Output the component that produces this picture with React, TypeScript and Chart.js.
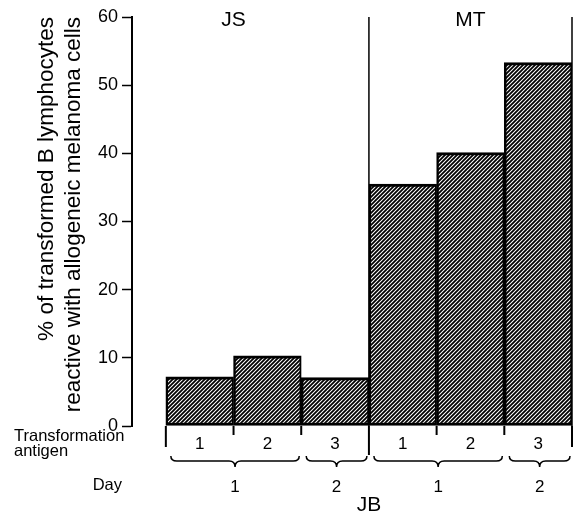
import React, { useEffect, useRef } from 'react';
import { Chart, registerables } from 'chart.js';

Chart.register(...registerables);

// ---- data ----
const antigenLabels = ['1', '2', '3', '1', '2', '3'];
const values = [7.2, 10.3, 7.1, 35.5, 40.1, 53.3];
const donors = ['JS', 'MT'];
const donorSpans = [[0, 2], [3, 5]];
const donorLabelAt = [0.5, 4];
const dayLabels = ['1', '2', '1', '2'];
const daySpans = [[0, 1], [2, 2], [3, 4], [5, 5]];
const yTitle = ['% of transformed B lymphocytes', 'reactive with allogeneic melanoma cells'];
const rowLabels = ['Transformation', 'antigen'];
const dayTitle = 'Day';
const subject = 'JB';

const FONT = "'Liberation Sans', Arial, Helvetica, sans-serif";

function makeHatch(): CanvasPattern | string {
  const c = document.createElement('canvas');
  c.width = 4;
  c.height = 4;
  const g = c.getContext('2d');
  if (!g) return '#888';
  g.fillStyle = '#fff';
  g.fillRect(0, 0, 4, 4);
  g.strokeStyle = '#000';
  g.lineWidth = 1.8;
  g.beginPath();
  g.moveTo(-1, 5); g.lineTo(5, -1);
  g.moveTo(-1, 1); g.lineTo(1, -1);
  g.moveTo(3, 5); g.lineTo(5, 3);
  g.stroke();
  const p = g.createPattern(c, 'repeat');
  return p || '#888';
}

function brace(ctx: CanvasRenderingContext2D, x1: number, x2: number, top: number) {
  const h = 5, d = 6, r = 6;
  const mid = (x1 + x2) / 2;
  const yb = top + h;
  ctx.beginPath();
  ctx.moveTo(x1, top);
  ctx.quadraticCurveTo(x1, yb, x1 + r, yb);
  ctx.lineTo(mid - r, yb);
  ctx.quadraticCurveTo(mid, yb, mid, yb + d);
  ctx.quadraticCurveTo(mid, yb, mid + r, yb);
  ctx.lineTo(x2 - r, yb);
  ctx.quadraticCurveTo(x2, yb, x2, top);
  ctx.stroke();
}

const annotate = {
  id: 'annotate',
  beforeDatasetsDraw(chart: any) {
    const { ctx, scales } = chart;
    const x = scales.x, y = scales.y;
    ctx.save();
    ctx.strokeStyle = '#000';
    ctx.lineWidth = 1.5;
    donorSpans.forEach(([, b]) => {
      const px = x.getPixelForValue(b + 0.5);
      ctx.beginPath();
      ctx.moveTo(px, y.getPixelForValue(60));
      ctx.lineTo(px, y.getPixelForValue(0));
      ctx.stroke();
    });
    ctx.restore();
  },
  afterDraw(chart: any) {
    const { ctx, scales } = chart;
    const x = scales.x, y = scales.y;
    const y0 = y.getPixelForValue(0);
    const yTop = y.getPixelForValue(60);
    ctx.save();
    ctx.fillStyle = '#000';
    ctx.strokeStyle = '#000';

    // donor labels
    ctx.font = `21px ${FONT}`;
    ctx.textAlign = 'center';
    ctx.textBaseline = 'middle';
    donors.forEach((d, i) => {
      ctx.fillText(d, x.getPixelForValue(donorLabelAt[i]), yTop + 3);
    });

    // boundary marks below the bars
    ctx.lineWidth = 2;
    const outer = new Set<number>();
    outer.add(-0.5);
    donorSpans.forEach(([, b]) => outer.add(b + 0.5));
    for (let k = 0; k <= antigenLabels.length; k++) {
      const v = k - 0.5;
      const px = x.getPixelForValue(v);
      let len = 9;
      if (outer.has(v)) len = v === 2.5 ? 29 : 21;
      ctx.beginPath();
      ctx.moveTo(px, y0);
      ctx.lineTo(px, y0 + len);
      ctx.stroke();
    }

    // braces for days
    ctx.lineWidth = 1.5;
    daySpans.forEach(([a, b], i) => {
      const x1 = x.getPixelForValue(a - 0.5) + 5;
      const x2 = x.getPixelForValue(b + 0.5) - 2;
      brace(ctx, x1, x2, y0 + 30);
      ctx.font = `17px ${FONT}`;
      ctx.textAlign = 'center';
      ctx.textBaseline = 'middle';
      ctx.fillText(dayLabels[i], (x1 + x2) / 2, y0 + 61);
    });

    // row labels
    ctx.font = `16.5px ${FONT}`;
    ctx.textAlign = 'left';
    ctx.textBaseline = 'middle';
    ctx.fillText(rowLabels[0], 14, y0 + 10);
    ctx.fillText(rowLabels[1], 14, y0 + 25);
    ctx.textAlign = 'right';
    ctx.fillText(dayTitle, y.right - 10, y0 + 59);

    // subject
    ctx.font = `21px ${FONT}`;
    ctx.textAlign = 'center';
    ctx.fillText(subject, x.getPixelForValue(2.5), y0 + 79);
    ctx.restore();
  },
};

export default function App() {
  const ref = useRef<HTMLCanvasElement>(null);
  useEffect(() => {
    if (!ref.current) return;
    Chart.defaults.font.family = FONT;
    const hatch = makeHatch();
    const chart = new Chart(ref.current, {
      type: 'bar',
      data: {
        datasets: [
          {
            data: values.map((v, i) => ({ x: i, y: v })),
            backgroundColor: hatch as any,
            borderColor: '#000',
            borderWidth: { top: 3, bottom: 3, left: 2.5, right: 2 } as any,
            borderSkipped: false,
            barPercentage: 1,
            categoryPercentage: 1,
          },
        ],
      },
      options: {
        responsive: false,
        animation: false,
        devicePixelRatio: 1,
        layout: { padding: { top: 17, right: 6, left: 0, bottom: 0 } },
        plugins: { legend: { display: false }, tooltip: { enabled: false } },
        scales: {
          x: {
            type: 'linear',
            min: -1,
            max: antigenLabels.length - 0.5,
            offset: false,
            grid: { display: false, drawTicks: false },
            border: { display: false },
            afterBuildTicks: (s: any) => {
              s.ticks = antigenLabels.map((_, i) => ({ value: i }));
            },
            afterFit: (s: any) => {
              s.height = 89;
            },
            ticks: {
              autoSkip: false,
              maxRotation: 0,
              padding: 8,
              color: '#000',
              font: { size: 17 },
              callback: (v: any) => antigenLabels[v] ?? '',
            },
          },
          y: {
            min: 0,
            max: 60,
            afterFit: (s: any) => {
              s.width = 132;
            },
            grid: {
              drawOnChartArea: false,
              drawTicks: true,
              tickLength: 10,
              tickColor: '#000',
              tickWidth: 1.5,
              color: '#000',
            },
            border: { display: true, color: '#000', width: 2 },
            ticks: {
              stepSize: 10,
              padding: 4,
              color: '#000',
              font: { size: 18 },
            },
            title: {
              display: true,
              text: yTitle,
              align: 'end',
              color: '#000',
              font: { size: 22.5, lineHeight: 1.17 },
              padding: { top: 34, bottom: 0 },
            },
          },
        },
      },
      plugins: [annotate],
    });
    return () => chart.destroy();
  }, []);
  return (
    <div style={{ position: 'absolute', left: 0, top: 0, width: 578, height: 515 }}>
      <canvas ref={ref} width={578} height={515} />
    </div>
  );
}
